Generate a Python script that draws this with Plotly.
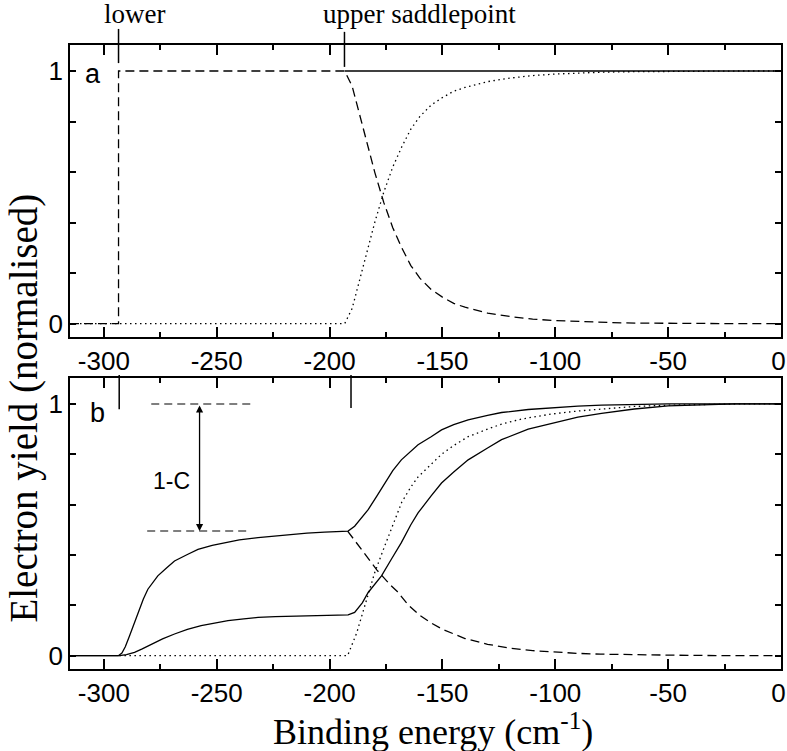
import plotly.graph_objects as go

# ---------------- data ----------------
# Panel a
a_dash_x = [-315, -293.5, -293.5, -193.3, -190, -187, -184, -180, -176, -172, -168, -164, -160,
            -155, -150, -145, -140, -130, -120, -110, -100, -90, -80, -70, -60, -50, -40, -20, 0]
a_dash_y = [0, 0, 1, 1, 0.94, 0.84, 0.73, 0.60, 0.48, 0.38, 0.30, 0.23, 0.18,
            0.135, 0.105, 0.08, 0.065, 0.042, 0.028, 0.018, 0.012, 0.008, 0.005, 0.003, 0.002, 0.001, 0, 0, 0]
a_dot_x = [-315, -193.3, -190, -187, -184, -180, -176, -172, -168, -164, -160,
           -155, -150, -145, -140, -130, -120, -110, -100, -90, -80, -70, -60, -50, -40, -20, 0]
a_dot_y = [0, 0, 0.06, 0.16, 0.27, 0.40, 0.52, 0.62, 0.70, 0.77, 0.82,
           0.865, 0.895, 0.92, 0.935, 0.958, 0.972, 0.982, 0.988, 0.992, 0.995, 0.997, 0.998, 0.999, 1, 1, 1]
a_solid_x = [-193.3, 0]
a_solid_y = [1, 1]

# Panel b
b_upper_x = [-315, -293.6, -292, -290.5, -288.6, -286.5, -284.9, -282.5, -280.5, -278, -276.1, -272, -268.7,
             -263, -258.3, -252, -246.5, -240, -231.7, -224, -216.9, -210, -202.2, -196, -191.8,
             -188.9, -185.5, -182.9, -179, -175.6, -172, -168.2, -164, -160.8, -155, -150.4, -145,
             -138.6, -130, -123.8, -112, -101.6, -90, -79.5, -65, -50, -35, -20, 0]
b_upper_y = [0, 0, 0.01, 0.035, 0.079, 0.13, 0.172, 0.225, 0.264, 0.297, 0.317, 0.35, 0.376,
             0.402, 0.422, 0.438, 0.449, 0.46, 0.469, 0.476, 0.482, 0.487, 0.491, 0.493, 0.495,
             0.514, 0.55, 0.58, 0.635, 0.686, 0.735, 0.778, 0.813, 0.838, 0.87, 0.897, 0.918,
             0.937, 0.955, 0.966, 0.978, 0.985, 0.991, 0.995, 0.998, 1.0, 1.0, 1.0, 1.0]
b_lower_x = [-315, -293.1, -290, -286.4, -283, -279, -274, -268.7, -263, -256.9, -251, -245, -238,
             -231.7, -224, -216.9, -210, -202.2, -196, -191.8, -188.9, -185.5, -182.9, -180, -177,
             -172.5, -168.2, -164, -160.8, -155, -150.4, -145, -138.6, -130, -123.8, -112, -101.6,
             -90, -79.5, -65, -50, -35, -20, 0]
b_lower_y = [0, 0, 0.004, 0.013, 0.027, 0.046, 0.067, 0.086, 0.104, 0.119, 0.13, 0.139, 0.146,
             0.152, 0.155, 0.156, 0.157, 0.158, 0.16, 0.162, 0.172, 0.21, 0.251, 0.285, 0.317,
             0.385, 0.449, 0.52, 0.567, 0.635, 0.686, 0.73, 0.778, 0.825, 0.858, 0.9, 0.924,
             0.948, 0.963, 0.98, 0.992, 0.997, 1.0, 1.0]
b_dot_x = [-293.1, -192, -188, -185, -182.9, -180, -175.6, -172, -168, -164, -160.8, -155, -150.4,
           -145, -138.6, -130, -123.8, -115, -101.6, -90, -79.5, -65, -50, -35, -20, 0]
b_dot_y = [0, 0, 0.09, 0.18, 0.25, 0.33, 0.435, 0.52, 0.61, 0.67, 0.71, 0.76, 0.80,
           0.835, 0.87, 0.90, 0.92, 0.94, 0.96, 0.972, 0.98, 0.99, 0.995, 0.998, 1.0, 1.0]
b_dash_x = [-192, -188, -185, -182, -179, -176, -173, -170, -165, -160, -155, -150, -145, -140,
            -130, -120, -110, -100, -90, -80, -70, -60, -50, -40, -20, 0]
b_dash_y = [0.495, 0.447, 0.41, 0.376, 0.34, 0.31, 0.28, 0.255, 0.20, 0.16, 0.13, 0.105, 0.085, 0.068,
            0.045, 0.03, 0.02, 0.013, 0.009, 0.006, 0.004, 0.003, 0.002, 0.001, 0, 0]

# saddle point markers
saddle_a = [-293.5, -193.4]
saddle_b = [-293.2, -190.5]
saddle_labels = ["lower", "upper saddlepoint"]

# contrast annotation (panel b)
c_level = 0.495
guide_top_x = [-279, -234.6]
guide_low_x = [-280.8, -236.2]
arrow_x = -257.6
label_1c = ["1-C", -270, 0.693]

x_tickvals = [-300, -250, -200, -150, -100, -50, 0]
x_ticktext = ["-300", "-250", "-200", "-150", "-100", "-50", "0\u2009"]
x_minor = [-275, -225, -175, -125, -75, -25]
y_tickvals = [0, 1]
y_ticktext = ["0", "1"]
y_minor = [0.2, 0.4, 0.6, 0.8]

# ---------------- figure ----------------
fig = go.Figure()
LW = 1.3
DASH = "9px,5px"
DOT = "1.5px,3.5px"

def add(x, y, dash, xa, ya, width=LW):
    fig.add_trace(go.Scatter(x=x, y=y, mode="lines", xaxis=xa, yaxis=ya, showlegend=False,
                             line=dict(color="black", width=width, dash=dash),
                             hoverinfo="skip"))

# panel a
add(a_solid_x, a_solid_y, "solid", "x", "y")
add(a_dot_x, a_dot_y, DOT, "x", "y")
add(a_dash_x, a_dash_y, DASH, "x", "y")

# panel b
add(b_dot_x, b_dot_y, DOT, "x2", "y2")
add(b_dash_x, b_dash_y, DASH, "x2", "y2")
add(b_upper_x, b_upper_y, "solid", "x2", "y2")
add(b_lower_x, b_lower_y, "solid", "x2", "y2")

# guide lines for 1-C
add(guide_top_x, [1, 1], "8px,5px", "x2", "y2", width=1.1)
add(guide_low_x, [c_level, c_level], "8px,5px", "x2", "y2", width=1.1)

axis_common = dict(showgrid=False, zeroline=False, showline=True, linecolor="black", linewidth=1.8,
                   mirror="ticks", ticks="inside", tickcolor="black", tickwidth=1.5, automargin=False,
                   ticklabeloverflow="allow",
                   tickfont=dict(family="Liberation Sans, Arial, sans-serif", size=26, color="black"))

xaxis_common = dict(axis_common, range=[-315, 0], tickmode="array", tickvals=x_tickvals,
                    ticktext=x_ticktext, ticklen=10,
                    minor=dict(tickmode="array", tickvals=x_minor, ticks="inside", ticklen=5,
                               tickcolor="black", tickwidth=1.5))
yaxis_common = dict(axis_common, range=[-0.053, 1.103], tickmode="array", tickvals=y_tickvals,
                    ticktext=y_ticktext, ticklen=6,
                    minor=dict(tickmode="array", tickvals=y_minor, ticks="inside", ticklen=6,
                               tickcolor="black", tickwidth=1.5))

fig.update_layout(
    template="none",
    width=787, height=751,
    margin=dict(l=70, r=6, t=45, b=82, autoexpand=False),
    paper_bgcolor="white", plot_bgcolor="white",
    xaxis=dict(xaxis_common, anchor="y", domain=[0, 1]),
    yaxis=dict(yaxis_common, anchor="x", domain=[0.532, 1]),
    xaxis2=dict(xaxis_common, anchor="y2", domain=[0, 1]),
    yaxis2=dict(yaxis_common, anchor="x2", domain=[0, 0.4663]),
)

shapes = []
shapes.append(dict(type="line", xref="x", yref="y domain", x0=saddle_a[0], x1=saddle_a[0],
                   y0=1.055, y1=0.938, line=dict(color="black", width=1.5)))
shapes.append(dict(type="line", xref="x", yref="y domain", x0=saddle_a[1], x1=saddle_a[1],
                   y0=1.045, y1=0.925, line=dict(color="black", width=1.5)))
shapes.append(dict(type="line", xref="x2", yref="y2 domain", x0=saddle_b[0], x1=saddle_b[0],
                   y0=1.01, y1=0.893, line=dict(color="black", width=1.5)))
shapes.append(dict(type="line", xref="x2", yref="y2 domain", x0=saddle_b[1], x1=saddle_b[1],
                   y0=1.01, y1=0.897, line=dict(color="black", width=1.5)))
fig.update_layout(shapes=shapes)

serif = "Liberation Serif, Times New Roman, serif"
sans = "Liberation Sans, Arial, sans-serif"
ann = []
ann.append(dict(text=saddle_labels[0], x=saddle_a[0] - 7.5, y=1.0, xref="x", yref="paper",
                xanchor="left", yanchor="bottom", showarrow=False, yshift=14,
                font=dict(family=serif, size=27, color="black")))
ann.append(dict(text=saddle_labels[1], x=saddle_a[1] - 10.5, y=1.0, xref="x", yref="paper",
                xanchor="left", yanchor="bottom", showarrow=False, yshift=14,
                font=dict(family=serif, size=27, color="black")))
ann.append(dict(text="a", x=-305, y=0.99, xref="x", yref="y", showarrow=False,
                font=dict(family=sans, size=27, color="black")))
ann.append(dict(text="b", x=-303, y=0.965, xref="x2", yref="y2", showarrow=False,
                font=dict(family=sans, size=27, color="black")))
ann.append(dict(text=label_1c[0], x=label_1c[1], y=label_1c[2], xref="x2", yref="y2", showarrow=False,
                font=dict(family=sans, size=23, color="black")))
ann.append(dict(text="", x=arrow_x, y=c_level, ax=arrow_x, ay=1.0, xref="x2", yref="y2",
                axref="x2", ayref="y2", showarrow=True, arrowhead=2, arrowside="end+start",
                arrowsize=1.1, arrowwidth=1.3, arrowcolor="black", standoff=0, startstandoff=0))
ann.append(dict(text="Binding energy (cm<sup>-1</sup>)", x=0.51, y=-0.107, xref="paper", yref="paper",
                xanchor="center", yanchor="middle", showarrow=False, yshift=6,
                font=dict(family=serif, size=36, color="black")))
ann.append(dict(text="Electron yield (normalised)", x=-0.066, y=0.4175, xref="paper", yref="paper",
                xanchor="center", yanchor="middle", showarrow=False, textangle=-90, xshift=1,
                font=dict(family=serif, size=39, color="black")))
fig.update_layout(annotations=ann)

fig.write_html("out.html", config={"displayModeBar": False},
               post_script="document.body.style.margin='0';document.body.style.overflow='hidden';")
